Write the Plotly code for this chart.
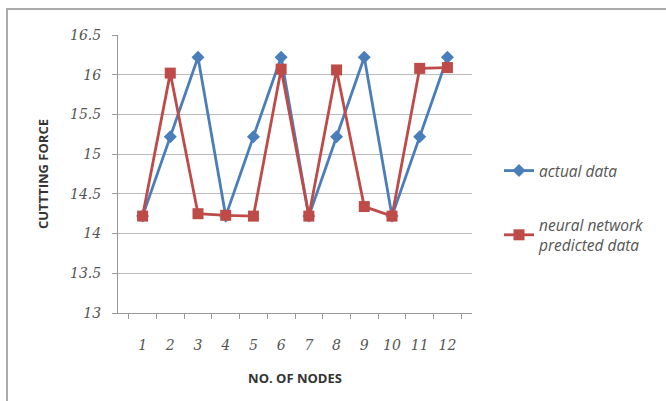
import plotly.graph_objects as go

nodes = ["1", "2", "3", "4", "5", "6", "7", "8", "9", "10", "11", "12"]
actual = [14.22, 15.22, 16.22, 14.22, 15.22, 16.22, 14.22, 15.22, 16.22, 14.22, 15.22, 16.22]
predicted = [14.22, 16.02, 14.25, 14.23, 14.22, 16.07, 14.22, 16.06, 14.34, 14.22, 16.08, 16.09]
y_ticks = [13, 13.5, 14, 14.5, 15, 15.5, 16, 16.5]

BLUE = "#4A7EBB"
RED = "#BE4B48"

W, H = 666, 401
L, T = 118, 35
Rpx, Bpx = 472, 313
R, B = W - Rpx, H - Bpx
pw, ph = Rpx - L, Bpx - T


def px(x):
    return (x - L) / pw


def py(y):
    return (Bpx - y) / ph


fig = go.Figure()
fig.add_trace(go.Scatter(
    x=nodes, y=actual, name="actual data", mode="lines+markers",
    line=dict(color=BLUE, width=2.8),
    marker=dict(symbol="diamond", size=10, color=BLUE),
    legendgroup="a",
))
fig.add_trace(go.Scatter(
    x=nodes, y=predicted, name="neural network<br>predicted data", mode="lines+markers",
    line=dict(color=RED, width=2.8),
    marker=dict(symbol="square", size=11, color=RED),
    legendgroup="b",
))

fig.update_layout(
    width=W, height=H,
    margin=dict(l=L, r=R, t=T, b=B),
    paper_bgcolor="white", plot_bgcolor="white",
    showlegend=True,
    legend=dict(
        x=px(499), y=py(154), xanchor="left", yanchor="top",
        font=dict(family="Open Sans, sans-serif", size=15.5, color="#555555", style="italic"),
        tracegroupgap=31, bgcolor="rgba(0,0,0,0)",
    ),
    xaxis=dict(
        type="category", tickson="boundaries", ticks="outside", ticklen=5,
        tickcolor="#999999", showline=True, linecolor="#999999", linewidth=1,
        showgrid=False, ticklabelstandoff=19,
        tickfont=dict(family="DejaVu Serif, serif", size=14, color="#555555", style="italic"),
        title=dict(text="<b>NO. OF NODES</b>", standoff=22,
                   font=dict(family="Open Sans, sans-serif", size=13, color="#333333")),
    ),
    yaxis=dict(
        range=[13, 16.5], tickvals=y_ticks, ticks="outside", ticklen=5,
        tickcolor="#999999", showline=True, linecolor="#999999", linewidth=1,
        showgrid=True, gridcolor="#BBBBBB", gridwidth=1, zeroline=False,
        ticklabelstandoff=8,
        tickfont=dict(family="DejaVu Serif, serif", size=14, color="#555555", style="italic"),
        title=dict(text="<b>CUTTTING FORCE</b>", standoff=18,
                   font=dict(family="Open Sans, sans-serif", size=13, color="#333333")),
    ),
    shapes=[
        dict(type="line", xref="paper", yref="paper", x0=px(7), x1=px(7), y0=py(9), y1=py(401),
             line=dict(color="#AAAAAA", width=2)),
        dict(type="line", xref="paper", yref="paper", x0=px(6), x1=px(666), y0=py(9), y1=py(9),
             line=dict(color="#AAAAAA", width=2)),
    ],
)

fig.write_html(
    "out.html",
    config={"displayModeBar": False},
    post_script="document.body.style.margin='0';document.body.style.overflow='hidden';",
)
